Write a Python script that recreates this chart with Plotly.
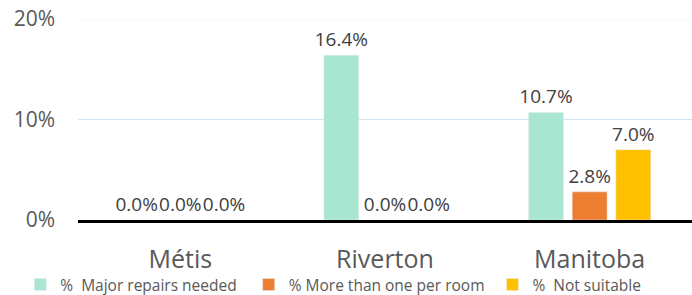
import plotly.graph_objects as go

categories = ["Métis", "Riverton", "Manitoba"]
series_names = ["%  Major repairs needed", "% More than one per room", "%  Not suitable"]
major_repairs = [0.0, 16.4, 10.7]
more_than_one = [0.0, 0.0, 2.8]
not_suitable = [0.0, 0.0, 7.0]
colors = ["#A9E6D2", "#ED7D31", "#FFC000"]
y_ticks = [0, 10, 20]
y_tick_labels = ["0%", "10%", "20%"]

legend_x = [-0.094, 0.278, 0.675]
legend_ids = ["legend", "legend2", "legend3"]

fig = go.Figure()
for name, vals, c, lid in zip(series_names, [major_repairs, more_than_one, not_suitable], colors, legend_ids):
    fig.add_trace(go.Bar(
        x=categories, y=vals, name=name, marker_color=c,
        text=[f"{v:.1f}%" for v in vals], textposition="outside",
        constraintext="none", legend=lid,
        textfont=dict(size=19, color="#404040"), cliponaxis=False,
    ))

legend_common = dict(orientation="h", y=-0.323, yanchor="middle", xanchor="left",
                     font=dict(size=15.5, color="#595959"), itemwidth=30,
                     bgcolor="rgba(0,0,0,0)")
fig.update_layout(
    width=692, height=295,
    margin=dict(l=78, r=0, t=19, b=75, autoexpand=False),
    paper_bgcolor="white", plot_bgcolor="white",
    font=dict(family="Open Sans, Liberation Sans, sans-serif", color="#595959"),
    barmode="group", bargap=0.36, bargroupgap=0.2,
    showlegend=True,
    legend=dict(x=legend_x[0], **legend_common),
    legend2=dict(x=legend_x[1], **legend_common),
    legend3=dict(x=legend_x[2], **legend_common),
)
# gridlines at 10% and 20%
grid_colors = {10: "#D3E2F1", 20: "#EEF3F8"}
for t in y_ticks[1:]:
    fig.add_shape(type="line", xref="paper", x0=0, x1=1, yref="y", y0=t, y1=t,
                  line=dict(color=grid_colors[t], width=1), layer="below")

fig.update_yaxes(range=[0, 20], tickvals=y_ticks, ticktext=y_tick_labels,
                 tickfont=dict(size=21, color="#595959"), showgrid=False,
                 zeroline=False, ticks="", ticklabelstandoff=22, automargin=False,
                 ticklabeloverflow="allow")
fig.update_xaxes(tickfont=dict(size=25, color="#595959"), showline=True,
                 linecolor="#000000", linewidth=3, ticks="", automargin=False,
                 ticklabelstandoff=15)

fig.write_html("out.html", config={"displayModeBar": False},
               post_script="document.body.style.margin='0';document.body.style.overflow='hidden';")
